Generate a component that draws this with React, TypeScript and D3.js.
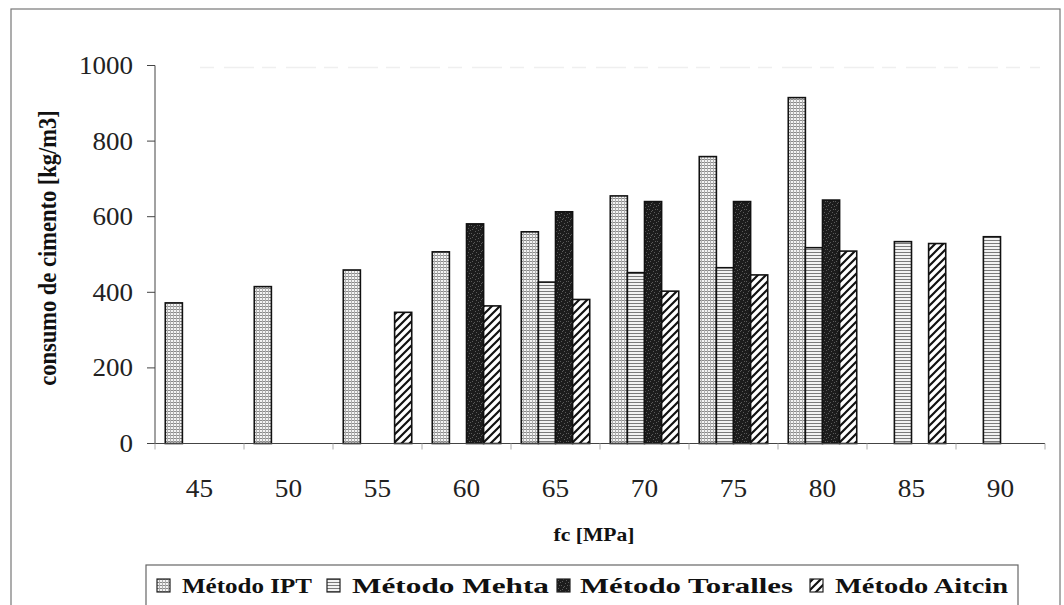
import React from "react";
import * as d3 from "d3";

const categories = ["45", "50", "55", "60", "65", "70", "75", "80", "85", "90"];
const seriesNames = ["Método IPT", "Método Mehta", "Método Toralles", "Método Aitcin"];
const ipt: (number | null)[] = [372, 415, 459, 507, 560, 655, 759, 915, null, null];
const mehta: (number | null)[] = [null, null, null, null, 427, 452, 465, 518, 534, 547];
const toralles: (number | null)[] = [null, null, null, 581, 613, 640, 640, 644, null, null];
const aitcin: (number | null)[] = [null, null, 347, 364, 381, 403, 446, 509, 529, null];
const yTicks = [0, 200, 400, 600, 800, 1000];

const seriesValues = [ipt, mehta, toralles, aitcin];
const fills = ["url(#pIpt)", "url(#pMehta)", "url(#pToralles)", "url(#pAitcin)"];

const W = 1064;
const H = 605;
const serif = '"Liberation Serif", "Times New Roman", Times, serif';

// speckle dots for the dark fill
const speckles: [number, number][] = [
  [1, 1], [4, 2], [2, 5], [6, 4], [5, 7], [0, 6], [3, 3], [7, 1],
];

export default function App() {
  const x0 = d3.scaleBand<string>().domain(categories).range([155, 1045]).paddingInner(0).paddingOuter(0);
  const x1 = d3
    .scaleBand<string>()
    .domain(seriesNames)
    .range([0, x0.bandwidth()])
    .paddingInner(0)
    .paddingOuter(0.6);
  const y = d3.scaleLinear().domain([0, 1000]).range([443.5, 65.5]);

  const legendItems = [
    { icon: 157, text: 182, len: 130 },
    { icon: 327, text: 352, len: 197 },
    { icon: 557, text: 580, len: 213 },
    { icon: 810, text: 835, len: 173 },
  ];

  return (
    <svg
      width={W}
      height={H}
      style={{ position: "absolute", left: 0, top: 0, background: "#fff", fontFamily: serif }}
    >
      <defs>
        <pattern id="pIpt" patternUnits="userSpaceOnUse" width={3} height={3}>
          <rect width={3} height={3} fill="#f4f4f4" />
          <rect x={0} y={0} width={3} height={1} fill="#8a8a8a" />
          <rect x={0} y={0} width={1} height={3} fill="#b0b0b0" />
        </pattern>
        <pattern id="pMehta" patternUnits="userSpaceOnUse" width={3} height={3}>
          <rect width={3} height={3} fill="#f2f2f2" />
          <rect x={0} y={0} width={3} height={1} fill="#7a7a7a" />
        </pattern>
        <pattern id="pToralles" patternUnits="userSpaceOnUse" width={8} height={8}>
          <rect width={8} height={8} fill="#1c1c1c" />
          {speckles.map(([sx, sy], i) => (
            <rect key={i} x={sx} y={sy} width={1} height={1} fill="#5a5a5a" />
          ))}
        </pattern>
        <pattern id="pAitcin" patternUnits="userSpaceOnUse" width={8} height={8}>
          <rect width={8} height={8} fill="#fff" />
          <path d="M-2,2 L2,-2 M0,8 L8,0 M6,10 L10,6" stroke="#111" strokeWidth={2.2} />
        </pattern>
      </defs>

      {/* outer chart frame */}
      <rect x={11} y={9} width={1049} height={620} fill="none" stroke="#777" strokeWidth={1.2} />

      {/* faint line at the top of the value range */}
      <line
        x1={200}
        x2={1040}
        y1={y(1000) + 2}
        y2={y(1000) + 2}
        stroke="#efefef"
        strokeWidth={1.5}
        strokeDasharray="14 10 30 8"
      />

      {/* bars */}
      {categories.map((c, ci) => (
        <g key={c} transform={`translate(${x0(c)},0)`}>
          {seriesNames.map((s, si) => {
            const v = seriesValues[si][ci];
            if (v == null) return null;
            return (
              <rect
                key={s}
                x={x1(s)}
                y={y(v)}
                width={x1.bandwidth()}
                height={y(0) - y(v)}
                fill={fills[si]}
                stroke="#111"
                strokeWidth={1.6}
              />
            );
          })}
        </g>
      ))}

      {/* y axis */}
      <line x1={155} x2={155} y1={y(1000)} y2={y(0)} stroke="#444" strokeWidth={1} />
      {yTicks.map((t) => (
        <g key={t}>
          <line x1={147} x2={155} y1={y(t)} y2={y(t)} stroke="#444" strokeWidth={1} />
          <text
            transform={`translate(133,${y(t) + 8.5}) scale(1.08,1)`}
            textAnchor="end"
            fontSize={25}
            fill="#222"
            style={{ fontFamily: serif }}
          >
            {t}
          </text>
        </g>
      ))}

      {/* x axis */}
      <line x1={155} x2={1045} y1={y(0)} y2={y(0)} stroke="#444" strokeWidth={1.2} />
      {[...categories.map((c) => x0(c) as number), 1045].map((px, i) => (
        <line key={i} x1={px} x2={px} y1={y(0)} y2={y(0) + 6} stroke="#aaa" strokeWidth={1} />
      ))}
      {categories.map((c) => (
        <text
          key={c}
          transform={`translate(${(x0(c) as number) + x0.bandwidth() / 2},${497}) scale(1.05,1)`}
          textAnchor="middle"
          fontSize={26}
          fill="#222"
          style={{ fontFamily: serif }}
        >
          {c}
        </text>
      ))}

      {/* axis titles */}
      <text
        transform={`translate(56,${248}) rotate(-90) scale(1,1.1)`}
        textAnchor="middle"
        fontSize={22.5}
        fontWeight="bold"
        fill="#111"
        style={{ fontFamily: serif }}
      >
        consumo de cimento [kg/m3]
      </text>
      <text
        transform={`translate(594,541) scale(1.2,1)`}
        textAnchor="middle"
        fontSize={18}
        fontWeight="bold"
        fill="#111"
        style={{ fontFamily: serif }}
      >
        fc [MPa]
      </text>

      {/* legend */}
      <rect x={146} y={565} width={872} height={60} fill="#fff" stroke="#666" strokeWidth={1.2} />
      {legendItems.map((it, i) => (
        <g key={seriesNames[i]}>
          <rect x={it.icon} y={579} width={13} height={13} fill={fills[i]} stroke="#222" strokeWidth={1.2} />
          <text
            x={it.text}
            y={593}
            fontSize={21}
            fontWeight="bold"
            fill="#111"
            textLength={it.len}
            lengthAdjust="spacingAndGlyphs"
            style={{ fontFamily: serif }}
          >
            {seriesNames[i]}
          </text>
        </g>
      ))}
    </svg>
  );
}
